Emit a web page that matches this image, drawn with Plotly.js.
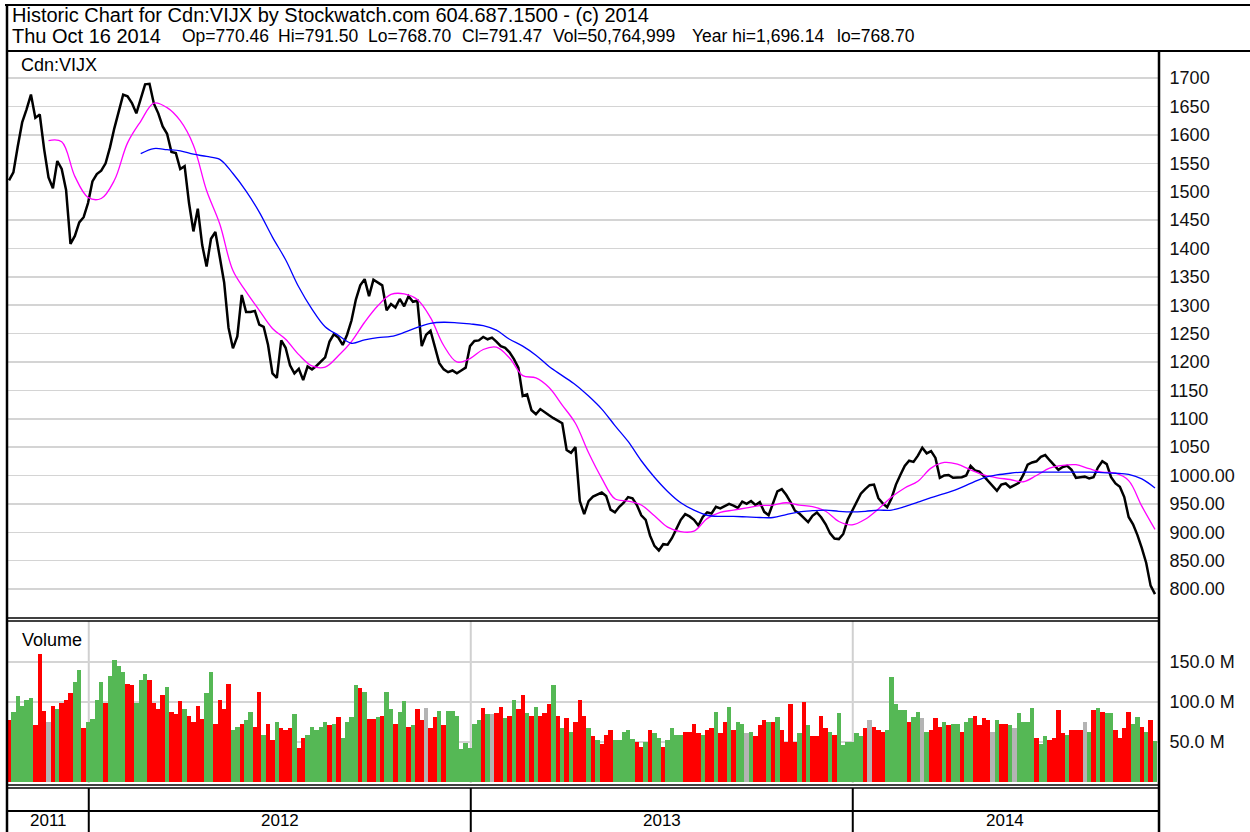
<!DOCTYPE html>
<html><head><meta charset="utf-8">
<script src="https://cdn.plot.ly/plotly-3.0.1.min.js"></script>
<style>html,body{margin:0;padding:0;background:#fff}#chart{width:1250px;height:832px}</style>
</head><body><div id="chart"></div>
<script>
// ---- data ----
const startDate = '2011-10-17';   // first trading day on the chart
const stepDays = 3;               // weekdays between samples
const closePrice = [
1520,1534,1580,1622,1645,1671,1630,1636,1575,1525,
1506,1554,1540,1503,1408,1422,1446,1455,1480,1518,
1531,1537,1550,1578,1612,1642,1671,1668,1656,1638,
1665,1689,1690,1655,1638,1615,1602,1570,1568,1540,
1545,1480,1430,1470,1406,1368,1417,1429,1385,1340,
1260,1224,1245,1318,1288,1288,1290,1266,1262,1230,
1180,1172,1238,1225,1194,1180,1188,1168,1192,1187,
1193,1200,1208,1236,1249,1243,1230,1248,1273,1310,
1335,1346,1316,1345,1340,1335,1291,1302,1296,1311,
1298,1316,1306,1308,1228,1248,1255,1225,1198,1187,
1182,1185,1180,1185,1190,1228,1237,1238,1244,1240,
1243,1236,1228,1225,1217,1205,1190,1140,1143,1115,
1108,1117,1111,1106,1101,1097,1092,1045,1040,1050,
955,932,955,963,966,970,964,940,935,945,
952,962,960,948,930,922,894,876,868,879,
878,890,906,922,932,928,922,912,927,935,
933,945,942,946,950,947,943,954,950,955,
948,953,936,930,953,972,976,966,953,938,
933,926,918,929,935,926,914,898,889,888,
897,922,938,953,968,976,983,984,960,951,
944,960,984,1001,1017,1026,1024,1035,1049,1039,
1043,1031,996,1000,1001,996,997,997,1000,1017,
1009,1007,999,990,980,973,984,986,979,983,
987,1001,1019,1023,1025,1033,1036,1027,1019,1010,
1015,1017,1010,996,997,998,995,997,1014,1025,
1020,997,986,980,962,927,914,895,872,846,
806,791];
const volumeM = [
77,87,108,95,103,105,71,160,89,75,
95,91,99,103,111,125,140,67,75,79,
103,125,99,133,152,145,137,123,121,99,
127,135,127,99,91,109,119,87,85,101,
91,83,75,95,79,111,137,73,103,91,
123,65,69,73,77,87,69,113,59,73,
53,75,67,65,67,85,43,55,59,69,
65,69,75,71,73,81,55,75,81,121,
117,113,79,79,81,83,113,91,73,87,
101,69,71,91,77,93,67,81,89,71,
89,89,83,41,49,43,73,77,93,85,
85,86,94,80,83,103,91,109,86,83,
94,83,86,98,121,83,68,80,62,75,
102,83,67,57,52,48,59,65,52,52,
63,65,54,50,44,50,65,61,55,44,
52,67,59,59,63,63,73,61,59,65,
67,88,61,75,94,65,75,73,61,63,
57,71,77,75,75,81,65,50,98,50,
61,100,71,57,57,83,67,63,59,86,
46,50,50,61,57,67,77,69,65,63,
65,131,98,90,90,75,81,88,80,63,
65,80,69,75,71,73,73,63,75,80,
83,71,80,77,63,77,73,73,71,67,
86,75,75,92,55,48,57,52,55,90,
61,59,65,65,65,75,63,90,92,88,
86,86,65,55,67,88,73,81,69,63,
77,51];
// u = up day, d = down day, n = unchanged
const volumeDir = [
'duuuuudddn','duddduuduu','uuduuuuddu','uudddduddd','udddduuddd',
'duuduuddud','dudddudduu','uuududuuuu','dudduduudu','ududdnddud',
'uuuuuuuudu','nddududdud','udddududud','ddududdduu','uuudduduud',
'uuuuddddud','dudduduunu','dddududddd','ududdddudu','uuuuudnddd',
'uuuuuduunu','ddduduuduu','ddddnuddun','uuuuduuddd','dudddnudud',
'uudddduudu','du'].join('').split('');
const maShortStart = 9;   // sample index of first value, every 3rd sample
const maShort = [
1590,1588,1527,1490,1488,1520,1586,1624,1656,1648,
1625,1582,1502,1443,1361,1324,1291,1259,1240,1213,
1193,1191,1211,1236,1270,1299,1319,1320,1310,1278,
1229,1200,1206,1222,1226,1207,1176,1172,1155,1124,
1092,1040,995,959,955,948,929,909,901,902,
924,935,939,943,947,948,952,948,945,937,
919,913,923,941,962,978,990,1013,1023,1020,
1010,1001,996,993,989,1000,1013,1018,1019,1012,
1006,1004,991,946,905];
const maLongStart = 30;
const maLong = [
1567,1576,1574,1572,1566,1562,1557,1532,1501,1464,
1420,1380,1332,1293,1262,1247,1233,1239,1243,1245,
1252,1261,1268,1270,1269,1267,1264,1256,1240,1228,
1212,1192,1176,1160,1140,1117,1088,1060,1026,997,
972,952,939,930,928,928,927,926,926,931,
936,938,939,937,936,937,939,939,945,953,
961,968,976,986,996,1001,1004,1006,1006,1006,
1006,1006,1006,1005,1004,1002,994,978];
const priceTicks = [800,850,900,950,1000,1050,1100,1150,1200,1250,1300,1350,1400,1450,1500,1550,1600,1650,1700];
const priceTickText = ['800.00','850.00','900.00','950.00','1000.00','1050','1100','1150','1200','1250','1300','1350','1400','1450','1500','1550','1600','1650','1700'];
const volTicks = [50,100,150];
const volTickText = ['50.0 M','100.0 M','150.0 M'];
const yearLabels = ['2011','2012','2013','2014'];
const yearStarts = ['2012-01-01','2013-01-01','2014-01-01'];
const headerTitle = 'Historic Chart for Cdn:VIJX by Stockwatch.com 604.687.1500 - (c) 2014';
const headerFields = ['Thu Oct 16 2014','Op=770.46','Hi=791.50','Lo=768.70','Cl=791.47','Vol=50,764,999','Year hi=1,696.14','lo=768.70'];
const symbolLabel = 'Cdn:VIJX';
const volumeLabel = 'Volume';

// ---- helpers ----
const W = 1250, H = 832;
const px = x => x / W, py = y => 1 - y / H;
function wdIndex(ds) {
  let d = new Date(startDate + 'T00:00:00Z'); const end = new Date(ds + 'T00:00:00Z'); let n = 0;
  while (d < end) { const w = d.getUTCDay(); if (w !== 0 && w !== 6) n++; d.setUTCDate(d.getUTCDate() + 1); }
  return n;
}
const xs = closePrice.map((_, i) => i * stepDays);
const maShortX = maShort.map((_, i) => (maShortStart + i * 3) * stepDays);
const maLongX = maLong.map((_, i) => (maLongStart + i * 3) * stepDays);
const XR = [-0.683, 785.05];
const FONT = 'Liberation Sans, Arial, sans-serif';
const colorOf = { u: '#55b855', d: '#ff0000', n: '#b4b4b4' };

const traces = [
  { type: 'bar', x: xs, y: volumeM, width: stepDays, xaxis: 'x2', yaxis: 'y2',
    marker: { color: volumeDir.map(c => colorOf[c]), line: { width: 0 } }, hoverinfo: 'skip' },
  { type: 'scatter', mode: 'lines', x: xs, y: closePrice, xaxis: 'x', yaxis: 'y',
    line: { color: '#000', width: 2.5 }, hoverinfo: 'skip' },
  { type: 'scatter', mode: 'lines', x: maShortX, y: maShort, xaxis: 'x', yaxis: 'y',
    line: { color: '#ff00ff', width: 1.3, shape: 'spline' }, hoverinfo: 'skip' },
  { type: 'scatter', mode: 'lines', x: maLongX, y: maLong, xaxis: 'x', yaxis: 'y',
    line: { color: '#0000ff', width: 1.3, shape: 'spline' }, hoverinfo: 'skip' }
];

const bounds = yearStarts.map(d => wdIndex(d) - 0.5);
const edges = [XR[0]].concat(bounds, [XR[1]]);
const shapes = [];
const L = (x0, y0, x1, y1, w, c) => shapes.push({ type: 'line', xref: 'paper', yref: 'paper',
  x0: px(x0), y0: py(y0), x1: px(x1), y1: py(y1), line: { color: c || '#000', width: w } });
L(5, 5, W, 5, 2);          // top
L(7, 4, 7, H, 2.5);        // left
L(7, 51, W, 51, 2);        // under header
L(1159, 51, 1159, H, 2.5); // right of plot
L(7, 618, 1159, 618, 1.5);
L(7, 621, 1159, 621, 1.5);
L(7, 785, 1159, 785, 1.5);
L(7, 788, 1159, 788, 1.5);
L(7, 811, 1159, 811, 2);
bounds.forEach(b => {
  shapes.push({ type: 'line', xref: 'x', yref: 'paper', x0: b, x1: b, y0: py(783), y1: py(621),
    line: { color: '#d0d0d0', width: 2 }, layer: 'below' });
  shapes.push({ type: 'line', xref: 'x', yref: 'paper', x0: b, x1: b, y0: py(788), y1: py(H),
    line: { color: '#000', width: 2 } });
});

const annotations = [];
const A = (text, x, y, size, anchor, xref) => annotations.push({ text, x, y: py(y), xref: xref || 'paper', yref: 'paper',
  xanchor: anchor || 'left', yanchor: 'middle', showarrow: false, font: { family: FONT, size, color: '#000' } });
A(headerTitle, px(10), 15, 20);
const fieldX = [10, 180, 276, 366, 460, 551, 690, 835];
headerFields.forEach((t, i) => A(t, px(fieldX[i]), 36, i === 0 ? 20 : 17.5));
A(symbolLabel, px(19), 65, 18);
A(volumeLabel, px(20), 640, 18);
yearLabels.forEach((t, i) => A(t, (edges[i] + edges[i + 1]) / 2, 820, 17, 'center', 'x'));

const axisFont = { family: FONT, size: 18, color: '#111' };
const layout = {
  width: W, height: H, margin: { l: 0, r: 0, t: 0, b: 0 }, showlegend: false,
  paper_bgcolor: '#fff', plot_bgcolor: '#fff', bargap: 0,
  xaxis: { domain: [px(8), px(1158)], range: XR, anchor: 'y', showticklabels: false, showgrid: false, zeroline: false, showline: false, fixedrange: true },
  yaxis: { domain: [py(618), py(56)], range: [749, 1739], anchor: 'x', side: 'right', tickmode: 'array', tickvals: priceTicks, ticktext: priceTickText,
    tickfont: axisFont, ticks: 'outside', ticklen: 7, tickcolor: 'rgba(0,0,0,0)', gridcolor: '#d4d4d4', gridwidth: 1.5, zeroline: false, showline: false, fixedrange: true },
  xaxis2: { domain: [px(8), px(1158)], range: XR, anchor: 'y2', showticklabels: false, showgrid: false, zeroline: false, showline: false, fixedrange: true },
  yaxis2: { domain: [py(784), py(621)], range: [-2.5, 201.25], anchor: 'x2', side: 'right', tickmode: 'array', tickvals: volTicks, ticktext: volTickText,
    tickfont: axisFont, ticks: 'outside', ticklen: 7, tickcolor: 'rgba(0,0,0,0)', gridcolor: '#d4d4d4', gridwidth: 1.5, zeroline: false, showline: false, fixedrange: true },
  shapes, annotations
};
Plotly.newPlot('chart', traces, layout, { staticPlot: true, displayModeBar: false });
</script></body></html>
